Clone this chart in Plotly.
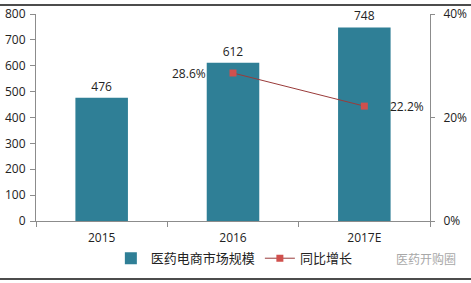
import plotly.graph_objects as go

categories = ["2015", "2016", "2017E"]
market_size = [476, 612, 748]
growth_pct = [None, 28.6, 22.2]
growth_labels = ["", "28.6%", "22.2%"]
left_ticks = [0, 100, 200, 300, 400, 500, 600, 700, 800]
right_ticks = [0, 20, 40]
right_tick_labels = ["0%", "20%", "40%"]

FONT = "Noto Sans CJK SC, DejaVu Sans, sans-serif"
NUMFONT = "Open Sans, DejaVu Sans, sans-serif"
TXT = "#222222"
AX = "#8c8c8c"

fig = go.Figure()
fig.add_trace(go.Bar(
    x=categories, y=market_size, name="医药电商市场规模",
    marker=dict(color="#2f7f96", line=dict(width=0)),
    width=0.4,
    text=[str(v) for v in market_size], textposition="outside",
    textfont=dict(size=12, color=TXT, family=NUMFONT),
    cliponaxis=False,
))
fig.add_trace(go.Scatter(
    x=categories, y=growth_pct, name="同比增长", yaxis="y2",
    mode="lines+markers",
    line=dict(color="#9a3b3a", width=1),
    marker=dict(symbol="square", size=7, color="#d0504d"),
))

# growth labels
xshift = {1: -44, 2: 43}
for i, (c, v, t) in enumerate(zip(categories, growth_pct, growth_labels)):
    if v is None:
        continue
    fig.add_annotation(x=i, y=v, xref="x", yref="y2", text=t, showarrow=False,
                       xshift=xshift[i], font=dict(size=12, color=TXT, family=NUMFONT))

# watermark source text
fig.add_annotation(xref="paper", yref="paper", x=1.07, y=-0.18, xanchor="right",
                   yanchor="middle",
                   text="医药开购圈", showarrow=False,
                   font=dict(size=12, color="#a8a8a8", family=FONT))

# top and bottom frame lines (paper coords: plot area spans y 14..221 px)
for yy in [1.043, -0.28]:
    fig.add_shape(type="line", xref="paper", yref="paper", x0=-0.1, x1=1.11,
                  y0=yy, y1=yy, line=dict(color="#111111", width=1.5))

fig.update_layout(
    width=471, height=283,
    margin=dict(l=36, r=41, t=14, b=62, autoexpand=False),
    paper_bgcolor="white", plot_bgcolor="white",
    font=dict(family=FONT, size=12, color=TXT),
    showlegend=True,
    legend=dict(orientation="h", x=0.19, xanchor="left", y=-0.18, yanchor="middle",
                font=dict(size=13, color=TXT, family=FONT),
                traceorder="normal"),
    bargap=0.6,
    xaxis=dict(type="category", categoryorder="array", categoryarray=categories,
               range=[-0.5, len(categories) - 0.5],
               showline=True, linecolor=AX, linewidth=1, ticks="outside",
               tickcolor=AX, ticklen=5, tickson="boundaries", showgrid=False,
               automargin=False, tickangle=0, ticklabelstandoff=6,
               tickfont=dict(size=12, color=TXT, family=NUMFONT)),
    yaxis=dict(range=[0, 800], tickvals=left_ticks, showline=True, linecolor=AX,
               linewidth=1, ticks="outside", tickcolor=AX, ticklen=5, automargin=False,
               showgrid=False, zeroline=False, ticklabelstandoff=2,
               tickfont=dict(size=12, color=TXT, family=NUMFONT)),
    yaxis2=dict(range=[0, 40], tickvals=right_ticks, ticktext=right_tick_labels,
                overlaying="y", side="right", showline=True, linecolor=AX,
                linewidth=1, ticks="outside", tickcolor=AX, ticklen=4, automargin=False,
                showgrid=False, zeroline=False, ticklabelstandoff=6,
                tickfont=dict(size=12, color=TXT, family=NUMFONT)),
)

fig.write_html("out.html")
